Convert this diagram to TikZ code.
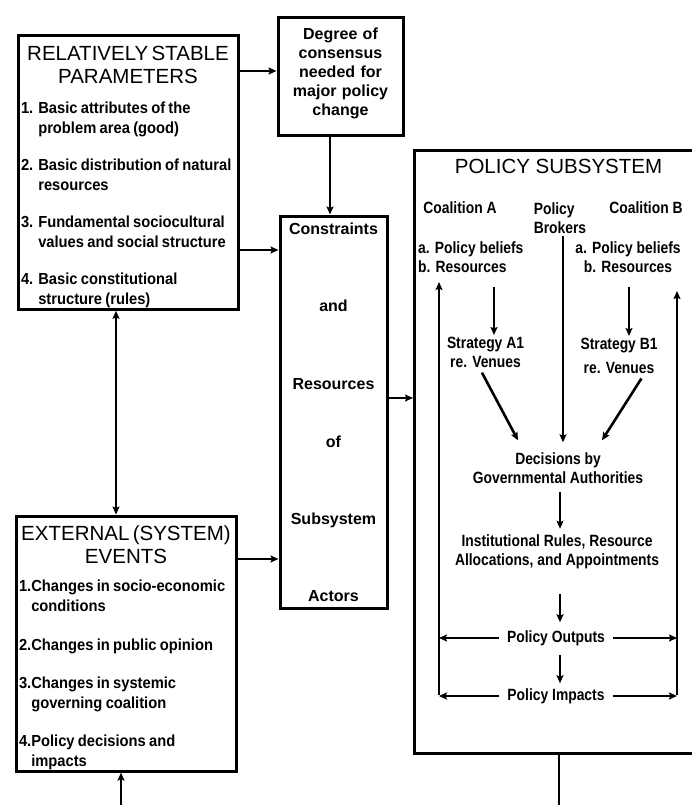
\documentclass[tikz,border=0pt]{standalone}
\usepackage{fontspec}
\setmainfont{Liberation Sans}
\newfontfamily\narrowsans[FakeStretch=0.85]{Liberation Sans}
\newfontfamily\itemsans[FakeStretch=0.92]{Liberation Sans}
\usetikzlibrary{positioning, arrows.meta}

\newcommand{\boxtitle}{\fontsize{20.5}{23}\selectfont}
\newcommand{\boxitem}{\itemsans\fontsize{16}{20}\selectfont\bfseries}
\newcommand{\boxtext}{\fontsize{16}{19}\selectfont\bfseries}
\newcommand{\subtext}{\narrowsans\bfseries\fontsize{16.3}{19}\selectfont}

\tikzset{
  box/.style={draw, line width=3pt, inner xsep=3pt, inner ysep=1pt},
  subtxt/.style={font=\subtext, align=center, inner sep=2pt},
  arr/.style={line width=2.6pt, -{Stealth[length=8pt, width=7pt, inset=1.5pt]}},
  dblarr/.style={line width=2.6pt, {Stealth[length=8pt, width=7pt, inset=1.5pt]}-{Stealth[length=8pt, width=7pt, inset=1.5pt]}},
  link/.style={line width=2.6pt}
}

\begin{document}
\begin{tikzpicture}[x=1pt, y=-1pt]
  \useasboundingbox (0,0) rectangle (691,805);

  % left column
  \node[box, anchor=north west, text width=214pt] (rsp) at (16.5,34.5) {%
    {\centering\boxtitle\rule{0pt}{24pt}RELATIVELY STABLE\\PARAMETERS\par}%
    \vspace{10pt}%
    \boxitem\raggedright
    1. Basic attributes of the\\
    \phantom{1. }problem area (good)\\[17pt]
    2. Basic distribution of natural\\
    \phantom{2. }resources\\[17pt]
    3. Fundamental sociocultural\\
    \phantom{3. }values and social structure\\[17pt]
    4. Basic constitutional\\
    \phantom{4. }structure (rules)\par};

  \node[box, anchor=north west, text width=214pt] (ext) at (14.5,514.5) {%
    {\centering\boxtitle\rule{0pt}{23.8pt}EXTERNAL (SYSTEM)\\EVENTS\par}%
    \vspace{8pt}%
    \boxitem\raggedright
    1.Changes in socio-economic\\
    \phantom{1.}conditions\\[19pt]
    2.Changes in public opinion\\[18pt]
    3.Changes in systemic\\
    \phantom{3.}governing coalition\\[18pt]
    4.Policy decisions and\\
    \phantom{4.}impacts\par};

  % middle column
  \node[box, anchor=north west, text width=119pt, minimum height=118pt,
        align=center, font=\boxtext] (deg) at (276.5,16.5)
        {Degree of\\consensus\\needed for\\major policy\\change\rule[-11pt]{0pt}{0pt}};
  \node[box, anchor=north west, text width=101pt, minimum height=392pt,
        align=center, font=\boxtext] (cons) at (278.5,214.5)
        {Constraints\\[58pt]and\\[59pt]Resources\\[39pt]of\\[58pt]Subsystem\\[58pt]Actors};

  % policy subsystem
  \node[box, anchor=north west, minimum width=290pt, minimum height=602pt] (ps) at (413,149.5) {};
  \node[font=\boxtitle] (pstitle) at (558.5,166) {POLICY SUBSYSTEM};
  \node[subtxt] (coalA) at (460,208) {Coalition A};
  \node[subtxt, align=left] (brokers) at (560,218) {Policy\\Brokers};
  \node[subtxt] (coalB) at (646,208) {Coalition B};
  \node[subtxt, align=left, anchor=west] (beliefsA) at (416,257) {a. Policy beliefs\\b. Resources};
  \node[subtxt] (beliefsB) at (628,257) {a. Policy beliefs\\b. Resources};
  \node[subtxt] (stratA) at (485.5,352.5) {Strategy A1\\re. Venues};
  \node[subtxt] (stratB) at (619,356) {Strategy B1\\[5pt]re. Venues};
  \node[subtxt] (decide) at (558,468) {Decisions by\\Governmental Authorities};
  \node[subtxt] (rules) at (557,552) {Institutional Rules, Resource\\Allocations, and Appointments};
  \node[subtxt] (outputs) at (556,638) {Policy Outputs};
  \node[subtxt] (impacts) at (556,696) {Policy Impacts};

  % helper points
  \coordinate (r1) at (0,71);
  \coordinate (r2) at (0,250);
  \coordinate (r3) at (0,398);
  \coordinate (r4) at (0,559);
  \coordinate (c1) at (116,0);
  \coordinate (c2) at (330,0);
  \coordinate (botL) at (121,812);
  \coordinate (botR) at (559,812);
  \coordinate (fbL) at (439,695);
  \coordinate (fbR) at (677,695);
  \coordinate (topL) at (439,282);
  \coordinate (topR) at (677,291);
  \coordinate (dA) at (494,287);
  \coordinate (dB) at (629,287);

  % connectors between boxes
  \draw[arr] (rsp.east |- r1) -- (deg.west |- r1);
  \draw[arr] (rsp.east |- r2) -- (cons.west |- r2);
  \draw[arr] (ext.east |- r4) -- (cons.west |- r4);
  \draw[arr] (cons.east |- r3) -- (ps.west |- r3);
  \draw[arr] (deg.south -| c2) -- (cons.north -| c2);
  \draw[dblarr] (rsp.south -| c1) -- (ext.north -| c1);
  \draw[arr] (botL) -- (botL |- ext.south);
  \draw[link] (botR |- ps.south) -- (botR);

  % inside the subsystem
  \draw[arr] (fbL) -- (topL);
  \draw[arr] (fbR) -- (topR);
  \draw[arr] (dA) -- (dA |- stratA.north);
  \draw[arr] (dB) -- (dB |- stratB.north);
  \draw[arr, shorten >=8pt] ([xshift=3pt]brokers.south) -- ([xshift=3pt]brokers.south |- decide.north);
  \draw[arr, shorten <=3pt] ([xshift=-5pt]stratA.south) -- ([xshift=-40pt, yshift=10pt]decide.north);
  \draw[arr, shorten <=3pt] ([xshift=24pt]stratB.south) -- ([xshift=44pt, yshift=10pt]decide.north);
  \draw[arr, shorten <=6pt, shorten >=4pt] ([xshift=2pt]decide.south) -- ([xshift=2pt]decide.south |- rules.north);
  \draw[arr, shorten <=23pt, shorten >=6pt] ([xshift=3pt]rules.south) -- ([xshift=3pt]rules.south |- outputs.north);
  \draw[arr, shorten <=7pt, shorten >=3pt] ([xshift=4pt]outputs.south) -- ([xshift=4pt]outputs.south |- impacts.north);
  \draw[arr, shorten <=6pt] (outputs.west) -- (outputs.west -| fbL);
  \draw[arr, shorten <=6pt] (outputs.east) -- (outputs.east -| fbR);
  \draw[arr, shorten <=6pt] (impacts.west) -- (impacts.west -| fbL);
  \draw[arr, shorten <=6pt] (impacts.east) -- (impacts.east -| fbR);
\end{tikzpicture}
\end{document}
